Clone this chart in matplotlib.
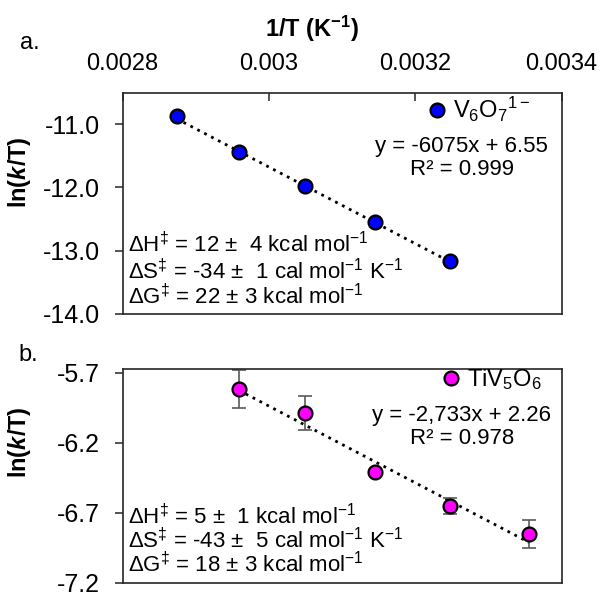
import matplotlib
matplotlib.use('Agg')
import matplotlib.pyplot as plt
import numpy as np

plt.rcParams['font.family'] = ['Liberation Sans', 'DejaVu Sans']
plt.rcParams['mathtext.fontset'] = 'custom'
plt.rcParams['mathtext.rm'] = 'Liberation Sans'
plt.rcParams['mathtext.it'] = 'Liberation Sans:italic:bold'
plt.rcParams['mathtext.bf'] = 'Liberation Sans:bold'
plt.rcParams['axes.unicode_minus'] = False

# panel a: V6O7(1-)
inv_T_a = [0.002874, 0.002959, 0.003049, 0.003145, 0.003247]
ln_kT_a = [-10.87, -11.44, -11.98, -12.55, -13.17]
fit_a = (-6075, 6.55)

# panel b: TiV5O6
inv_T_b = [0.002959, 0.003049, 0.003145, 0.003247, 0.003356]
ln_kT_b = [-5.82, -5.99, -6.41, -6.65, -6.85]
err_b = [0.135, 0.12, 0.015, 0.055, 0.10]
fit_b = (-2733, 2.26)

x_ticks = [0.0028, 0.003, 0.0032, 0.0034]
x_ticklabels = ['0.0028', '0.003', '0.0032', '0.0034']
y_ticks_a = [-11.0, -12.0, -13.0, -14.0]
y_ticks_b = [-5.7, -6.2, -6.7, -7.2]

lines_a = [r'ΔH$^‡$ = 12 ±  4 kcal mol$^{-1}$',
           r'ΔS$^‡$ = -34 ±  1 cal mol$^{-1}$ K$^{-1}$',
           r'ΔG$^‡$ = 22 ± 3 kcal mol$^{-1}$']
lines_b = [r'ΔH$^‡$ = 5 ±  1 kcal mol$^{-1}$',
           r'ΔS$^‡$ = -43 ±  5 cal mol$^{-1}$ K$^{-1}$',
           r'ΔG$^‡$ = 18 ± 3 kcal mol$^{-1}$']

fig = plt.figure(figsize=(6, 5.93), dpi=100)
ax1 = fig.add_axes([0.2042, 0.4713, 0.7317, 0.3719])
ax2 = fig.add_axes([0.2042, 0.0169, 0.7317, 0.3608])

spine_col = '#262626'
fs_text = 16

for ax in (ax1, ax2):
    ax.set_xlim(0.0028, 0.0034)
    for s in ax.spines.values():
        s.set_linewidth(1.2)
        s.set_color(spine_col)
    ax.tick_params(axis='y', direction='out', length=6, width=1.1, pad=10,
                   labelsize=18, color=spine_col)

# ---- panel a ----
xf = np.linspace(min(inv_T_a), max(inv_T_a), 50)
ax1.plot(xf, fit_a[0] * xf + fit_a[1], color='black', lw=2, linestyle=(0, (1, 1.8)), zorder=2)
ax1.plot(inv_T_a, ln_kT_a, 'o', ms=10, mfc='#0000FF', mec='black', mew=1.6, zorder=3,
         label=r'V$_6$O$_7$$^{1-}$')
ax1.set_ylim(-14.0, -10.5)
ax1.set_yticks(y_ticks_a)
ax1.set_yticklabels([f'{v:.1f}' for v in y_ticks_a])
ax1.set_xticks(x_ticks)
ax1.set_xticklabels(x_ticklabels)
ax1.tick_params(axis='x', direction='in', length=6, width=1.1, top=True, bottom=False,
                labeltop=True, labelbottom=False, labelsize=17, pad=13, color=spine_col)
ax1.xaxis.set_label_position('top')
ax1.set_xlabel(r'1/T (K$^{\mathbf{-1}}$)', fontsize=17, fontweight='bold')
ax1.xaxis.set_label_coords(0.432, 1.255)
ax1.set_ylabel(r'ln($\mathit{k}$/T)', fontsize=17, fontweight='bold')
ax1.yaxis.set_label_coords(-0.204, 0.64)
ax1.legend(loc='upper right', bbox_to_anchor=(0.93, 0.99), frameon=False, fontsize=17,
           handlelength=0.6, handletextpad=0.4, borderpad=0, borderaxespad=0)
ax1.text(0.773, 0.756, 'y = -6075x + 6.55', transform=ax1.transAxes, ha='center', va='center', fontsize=fs_text)
ax1.text(0.773, 0.651, 'R² = 0.999', transform=ax1.transAxes, ha='center', va='center', fontsize=fs_text)
for t, yy in zip(lines_a, [0.311, 0.19, 0.076]):
    ax1.text(0.013, yy, t, transform=ax1.transAxes, ha='left', va='center', fontsize=fs_text)

# ---- panel b ----
xf = np.linspace(min(inv_T_b), max(inv_T_b), 50)
ax2.plot(xf, fit_b[0] * xf + fit_b[1], color='black', lw=2, linestyle=(0, (1, 1.8)), zorder=2)
ax2.errorbar(inv_T_b, ln_kT_b, yerr=err_b, fmt='none', ecolor='#5a5a5a', elinewidth=1.2,
             capsize=5, capthick=1.2, zorder=2.5)
ax2.plot(inv_T_b, ln_kT_b, 'o', ms=10, mfc='#FF00FF', mec='black', mew=1.6, zorder=3,
         label=r'TiV$_5$O$_6$')
ax2.set_ylim(-7.2, -5.675)
ax2.set_yticks(y_ticks_b)
ax2.set_yticklabels([f'{v:.1f}' for v in y_ticks_b])
ax2.tick_params(axis='x', bottom=False, top=False, labelbottom=False)
ax2.set_ylabel(r'ln($\mathit{k}$/T)', fontsize=17, fontweight='bold')
ax2.yaxis.set_label_coords(-0.204, 0.66)
ax2.legend(loc='upper right', bbox_to_anchor=(0.955, 1.01), frameon=False, fontsize=17,
           handlelength=0.6, handletextpad=0.4, borderpad=0, borderaxespad=0)
ax2.text(0.773, 0.785, 'y = -2,733x + 2.26', transform=ax2.transAxes, ha='center', va='center', fontsize=fs_text)
ax2.text(0.773, 0.676, 'R² = 0.978', transform=ax2.transAxes, ha='center', va='center', fontsize=fs_text)
for t, yy in zip(lines_b, [0.31, 0.198, 0.084]):
    ax2.text(0.013, yy, t, transform=ax2.transAxes, ha='left', va='center', fontsize=fs_text)

fig.text(0.05, 1 - 43 / 593, 'a.', fontsize=17, ha='center', va='center')
fig.text(0.047, 1 - 355 / 593, 'b.', fontsize=17, ha='center', va='center')

fig.savefig('out.png', dpi=100)
